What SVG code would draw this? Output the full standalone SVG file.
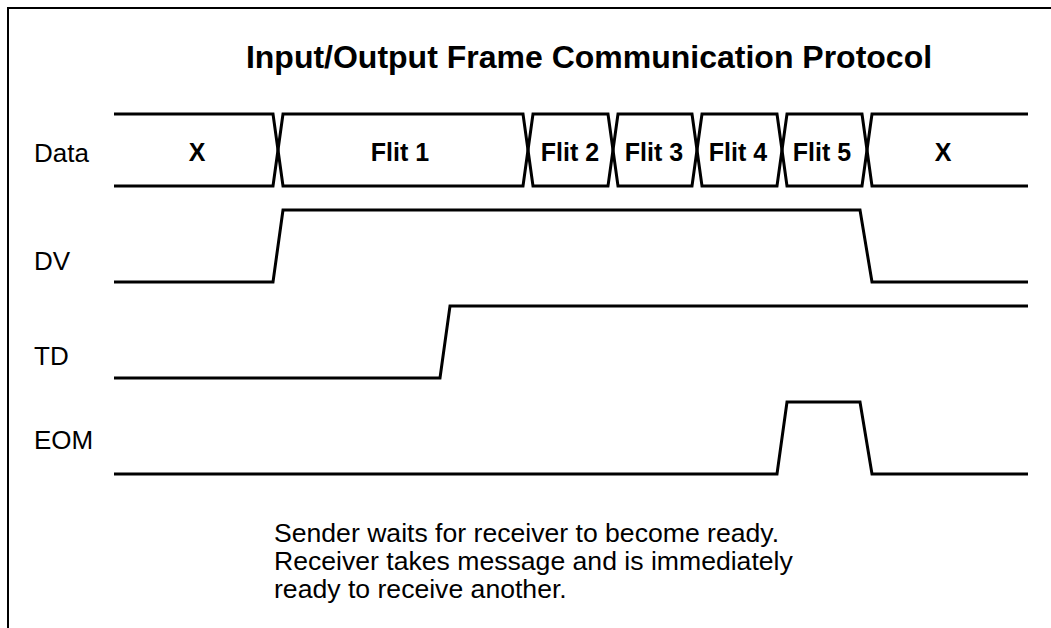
<svg xmlns="http://www.w3.org/2000/svg" width="1051" height="628" viewBox="0 0 1051 628">
  <style>
    .frame { fill: none; stroke: #000; stroke-width: 2; }
    .wave { fill: none; stroke: #000; stroke-width: 3; stroke-linejoin: miter; }
    .title { font-family: "Liberation Sans", Arial, sans-serif; font-size: 32px; font-weight: bold; text-anchor: middle; }
    .label { font-family: "Liberation Sans", Arial, sans-serif; font-size: 26px; }
    .val { font-family: "Liberation Sans", Arial, sans-serif; font-size: 25px; font-weight: bold; text-anchor: middle; }
    .note { font-family: "Liberation Sans", Arial, sans-serif; font-size: 26.6px; }
  </style>

  <rect width="1051" height="628" fill="#fff"/>

  <!-- open frame: top and left edges only -->
  <path class="frame" d="M8,628 V8 H1051"/>

  <text class="title" x="589" y="68">Input/Output Frame Communication Protocol</text>

  <!-- signal names -->
  <g id="signal-names">
    <text class="label" x="34" y="162">Data</text>
    <text class="label" x="34" y="270">DV</text>
    <text class="label" x="34" y="365">TD</text>
    <text class="label" x="34" y="449">EOM</text>
  </g>

  <g id="waves">
    <!-- Data bus: crossings at 278, 528, 613, 697, 782, 867 -->
    <g id="data-bus">
      <path class="wave" d="M114,114 H273 L283,186 H523 L533,114 H608 L618,186 H692 L702,114 H777 L787,186 H862 L872,114 H1028"/>
      <path class="wave" d="M114,186 H273 L283,114 H523 L533,186 H608 L618,114 H692 L702,186 H777 L787,114 H862 L872,186 H1028"/>
      <text class="val" x="197" y="161">X</text>
      <text class="val" x="400" y="161">Flit 1</text>
      <text class="val" x="570" y="161">Flit 2</text>
      <text class="val" x="654" y="161">Flit 3</text>
      <text class="val" x="738" y="161">Flit 4</text>
      <text class="val" x="822" y="161">Flit 5</text>
      <text class="val" x="943" y="161">X</text>
    </g>

    <g id="dv">
      <path class="wave" d="M114,282 H273 L283,210 H860 L872,282 H1028"/>
    </g>

    <g id="td">
      <path class="wave" d="M114,378 H440 L450,306 H1028"/>
    </g>

    <g id="eom">
      <path class="wave" d="M114,474 H777 L787,402 H860 L872,474 H1028"/>
    </g>
  </g>

  <g id="note">
    <text class="note" x="274" y="542">Sender waits for receiver to become ready.</text>
    <text class="note" x="274" y="570">Receiver takes message and is immediately</text>
    <text class="note" x="274" y="598">ready to receive another.</text>
  </g>
</svg>
